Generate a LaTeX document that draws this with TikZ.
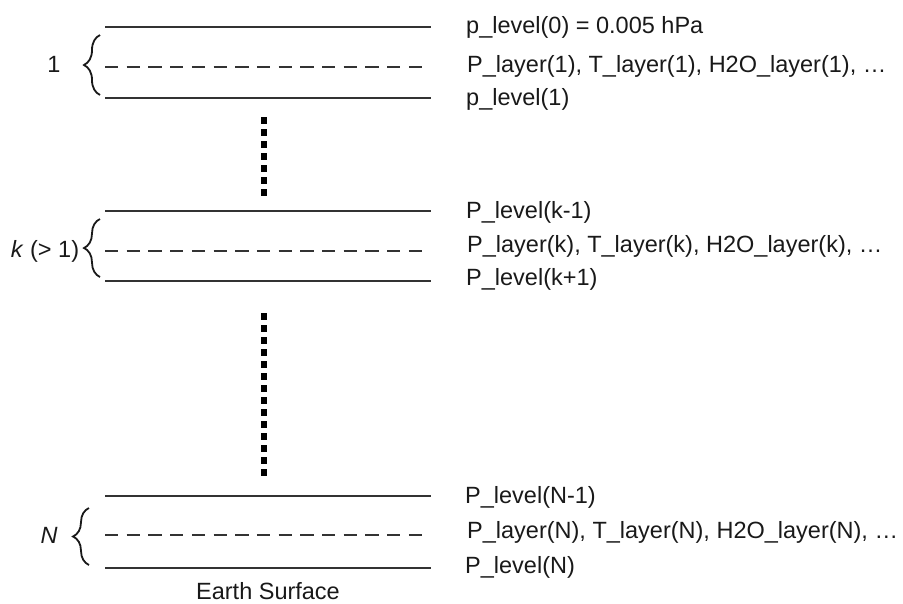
\documentclass[tikz,border=0pt]{standalone}
\usepackage{fontspec}
\setmainfont{Liberation Sans}
\usetikzlibrary{decorations.pathreplacing}
\begin{document}
\begin{tikzpicture}[x=1pt,y=-1pt,
  levelline/.style={line width=2pt, draw=black!80},
  layerline/.style={line width=2pt, draw=black!80, dash pattern=on 13.3pt off 8.4pt},
  dotline/.style={line width=6pt, draw=black, dash pattern=on 7pt off 5pt},
  lbl/.style={anchor=base west, inner sep=0pt, font=\fontsize{23.5}{28}\selectfont, text=black!90},
  grp/.style={anchor=base, inner sep=0pt, font=\fontsize{23.5}{28}\selectfont, text=black!90},
  bracestyle/.style={decorate, decoration={brace, amplitude=16pt}, line width=1.8pt, draw=black!90}
]
\useasboundingbox (0,0) rectangle (903,603);

% ---- group 1
\coordinate (l0a) at (105,27.3);  \coordinate (l0b) at (431,27.3);
\coordinate (d1a) at (105,66.7);  \coordinate (d1b) at (424,66.7);
\coordinate (l1a) at (105,98.3);  \coordinate (l1b) at (431,98.3);
\draw[levelline] (l0a) -- (l0b);
\draw[layerline] (d1a) -- (d1b);
\draw[levelline] (l1a) -- (l1b);
\node[lbl] (t0) at (466,33) {p\_level(0) = 0.005 hPa};
\node[lbl] (t1) at (467,72) {P\_layer(1), T\_layer(1), H2O\_layer(1), …};
\node[lbl] (t2) at (466,105) {p\_level(1)};
\coordinate (b1a) at (100,95); \coordinate (b1b) at (100,35);
\draw[bracestyle] (b1a) -- (b1b);
\node[grp] (g1) at (54,72) {1};

% ---- dots 1
\coordinate (v1a) at (263.5,117); \coordinate (v1b) at (263.5,197);
\draw[dotline] (v1a) -- (v1b);

% ---- group 2
\coordinate (lk1a) at (105,210.7); \coordinate (lk1b) at (431,210.7);
\coordinate (dka) at (105,250.7);  \coordinate (dkb) at (424,250.7);
\coordinate (lk2a) at (105,281);   \coordinate (lk2b) at (431,281);
\draw[levelline] (lk1a) -- (lk1b);
\draw[layerline] (dka) -- (dkb);
\draw[levelline] (lk2a) -- (lk2b);
\node[lbl] (t3) at (466,218) {P\_level(k-1)};
\node[lbl] (t4) at (467,252) {P\_layer(k), T\_layer(k), H2O\_layer(k), …};
\node[lbl] (t5) at (466,285) {P\_level(k+1)};
\coordinate (b2a) at (100,277); \coordinate (b2b) at (100,219);
\draw[bracestyle] (b2a) -- (b2b);
\node[grp] (g2) at (45,257) {\textit{k} (> 1)};

% ---- dots 2
\coordinate (v2a) at (263.5,313); \coordinate (v2b) at (263.5,476);
\draw[dotline] (v2a) -- (v2b);

% ---- group 3
\coordinate (ln1a) at (105,495.7); \coordinate (ln1b) at (431,495.7);
\coordinate (dna) at (105,535);    \coordinate (dnb) at (424,535);
\coordinate (lnna) at (105,568.3); \coordinate (lnnb) at (431,568.3);
\draw[levelline] (ln1a) -- (ln1b);
\draw[layerline] (dna) -- (dnb);
\draw[levelline] (lnna) -- (lnnb);
\node[lbl] (t6) at (465,503) {P\_level(N-1)};
\node[lbl] (t7) at (467,538) {P\_layer(N), T\_layer(N), H2O\_layer(N), …};
\node[lbl] (t8) at (465,573) {P\_level(N)};
\coordinate (b3a) at (89,565); \coordinate (b3b) at (89,508);
\draw[bracestyle] (b3a) -- (b3b);
\node[grp] (g3) at (49,543) {\textit{N}};

\node[grp] (earth) at (268,599) {Earth Surface};
\end{tikzpicture}
\end{document}
